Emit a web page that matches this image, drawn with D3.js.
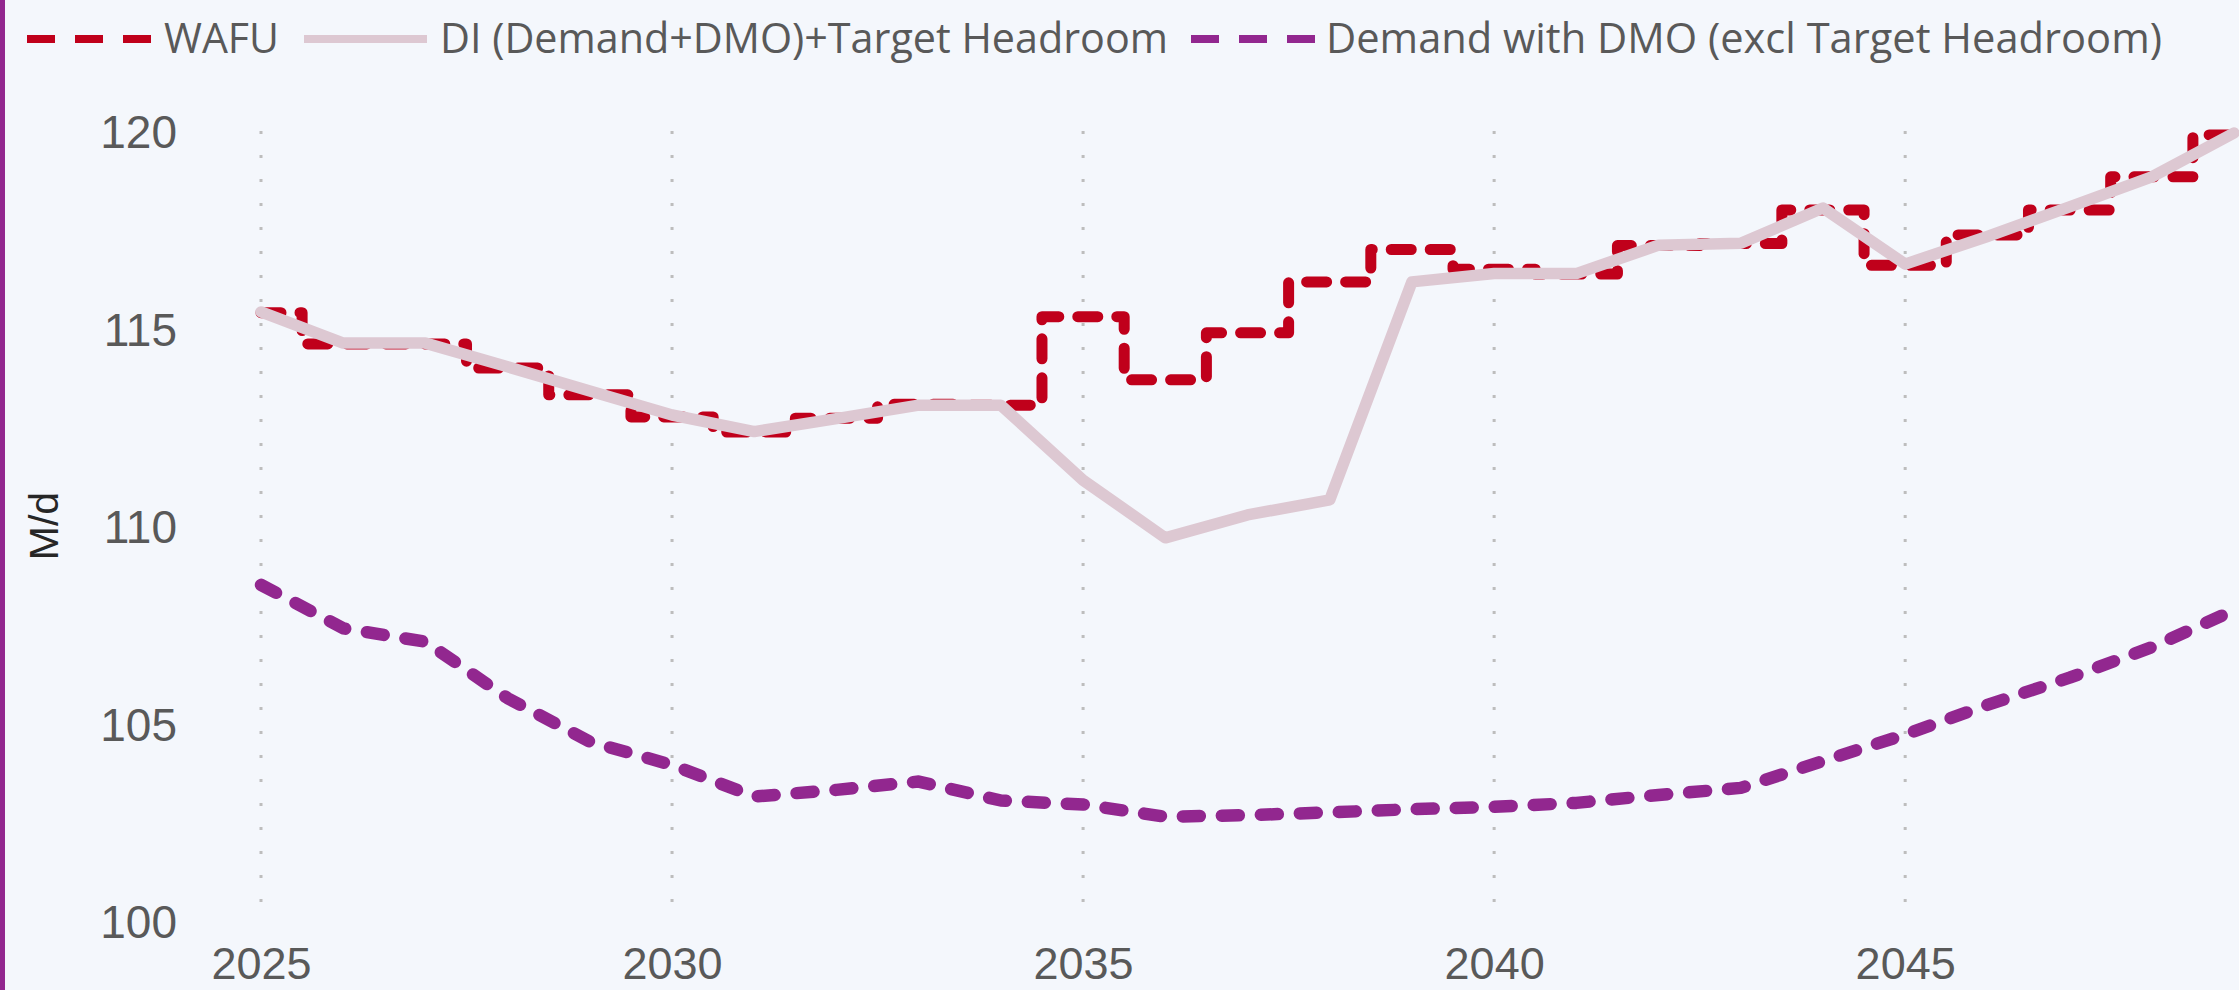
<!DOCTYPE html>
<html>
<head>
<meta charset="utf-8">
<script src="https://cdn.jsdelivr.net/npm/d3@7"></script>
<style>
  html, body { margin: 0; padding: 0; background: #f4f7fc; }
  svg { display: block; }
</style>
</head>
<body>
<div class="wrapper"></div>
<script>
const WIDTH = 2239
const HEIGHT = 990

// data
var years = [2025, 2026, 2027, 2028, 2029, 2030, 2031, 2032, 2033, 2034, 2035, 2036,
             2037, 2038, 2039, 2040, 2041, 2042, 2043, 2044, 2045, 2046, 2047, 2048, 2049]
var wafu = [115.40, 114.61, 114.61, 114.00, 113.32, 112.76, 112.38, 112.73, 113.08, 113.06,
            115.30, 113.70, 114.89, 116.18, 117.00, 116.50, 116.38, 117.10, 117.15, 118.00,
            116.60, 117.37, 118.00, 118.84, 119.90]
var di = [115.42, 114.63, 114.63, 114.03, 113.42, 112.81, 112.39, 112.72, 113.06, 113.06,
          111.16, 109.70, 110.28, 110.66, 116.18, 116.39, 116.39, 117.11, 117.16, 118.05,
          116.63, 117.33, 118.08, 118.84, 119.95]
var demand = [108.51, 107.41, 107.07, 105.64, 104.54, 103.95, 103.15, 103.32, 103.53, 103.05,
              102.95, 102.64, 102.68, 102.75, 102.83, 102.89, 102.99, 103.19, 103.37, 104.05,
              104.72, 105.47, 106.16, 106.93, 107.87]

var seriesNames = ['WAFU', 'DI (Demand+DMO)+Target Headroom', 'Demand with DMO (excl Target Headroom)']
var yTicks = [100, 105, 110, 115, 120]
var xTicks = [2025, 2030, 2035, 2040, 2045]
var yLabel = 'M/d'

var colors = ['#c0001b', '#ddc8d2', '#92278f']

var series = [
  {name: seriesNames[0], values: wafu, color: colors[0], width: 11, dash: '20,19', curve: d3.curveStep},
  {name: seriesNames[1], values: di, color: colors[1], width: 11.5, dash: null, curve: d3.curveLinear},
  {name: seriesNames[2], values: demand, color: colors[2], width: 12.5, dash: '17,22', curve: d3.curveLinear}
]

var svg = d3.select(".wrapper")
  .append("svg")
  .attr("width", WIDTH)
  .attr("height", HEIGHT)

svg.append("rect")
  .attr("width", WIDTH).attr("height", HEIGHT)
  .attr("fill", "#f4f7fc")

// purple strip on the left edge
svg.append("rect")
  .attr("x", 0).attr("y", 0)
  .attr("width", 5).attr("height", HEIGHT)
  .attr("fill", "#92278f")

var x = d3.scaleLinear().domain([2025, 2049]).range([261, 2234])
var y = d3.scaleLinear().domain([100, 120]).range([921, 131])

// dotted vertical grid
svg.append("g")
  .selectAll("line")
  .data(xTicks)
  .join("line")
  .attr("x1", d => x(d)).attr("x2", d => x(d))
  .attr("y1", y(120)).attr("y2", y(100) + 2)
  .attr("stroke", "#bdbdbd")
  .attr("stroke-width", 3)
  .attr("stroke-dasharray", "3,21")

// axes
var yAxis = svg.append("g")
  .attr("transform", "translate(177,0)")
  .call(d3.axisLeft(y).tickValues(yTicks).tickSize(0).tickPadding(0))
yAxis.select(".domain").remove()
yAxis.selectAll("text")
  .attr("x", 0)
  .attr("dy", "0.36em")
  .style("font-family", "'Liberation Sans', Arial, sans-serif")
  .style("font-size", "46px")
  .attr("fill", "#595959")

var xAxis = svg.append("g")
  .attr("transform", "translate(0,979)")
  .call(d3.axisBottom(x).tickValues(xTicks).tickFormat(d3.format("d")).tickSize(0))
xAxis.select(".domain").remove()
xAxis.selectAll("text")
  .attr("y", 0)
  .attr("dy", 0)
  .style("font-family", "'Liberation Sans', Arial, sans-serif")
  .style("font-size", "45px")
  .attr("fill", "#595959")

svg.append("text")
  .attr("transform", "translate(58,526) rotate(-90)")
  .attr("text-anchor", "middle")
  .style("font-family", "'Liberation Sans', Arial, sans-serif")
  .style("font-size", "41px")
  .attr("fill", "#262626")
  .text(yLabel)

// lines
svg.append("g")
  .selectAll("path")
  .data(series)
  .join("path")
  .attr("fill", "none")
  .attr("stroke", d => d.color)
  .attr("stroke-width", d => d.width)
  .attr("stroke-dasharray", d => d.dash)
  .attr("stroke-linecap", "round")
  .attr("stroke-linejoin", "round")
  .attr("d", d => d3.line()
      .x((v, i) => x(years[i]))
      .y(v => y(v))
      .curve(d.curve)(d.values))

// legend
var legendItems = [
  {x1: 27, x2: 151, tx: 164, tw: 115},
  {x1: 304, x2: 427, tx: 440, tw: 728},
  {x1: 1191, x2: 1315, tx: 1326, tw: 836}
]
var legend = svg.append("g")
legend.selectAll("line")
  .data(series)
  .join("line")
  .attr("x1", (d, i) => legendItems[i].x1)
  .attr("x2", (d, i) => legendItems[i].x2)
  .attr("y1", 39).attr("y2", 39)
  .attr("stroke", d => d.color)
  .attr("stroke-width", 8)
  .attr("stroke-dasharray", d => d.dash ? "28,20" : null)

legend.selectAll("text")
  .data(series)
  .join("text")
  .attr("x", (d, i) => legendItems[i].tx)
  .attr("y", 53)
  .attr("textLength", (d, i) => legendItems[i].tw)
  .attr("lengthAdjust", "spacingAndGlyphs")
  .style("font-family", "'Open Sans', sans-serif")
  .style("font-size", "42px")
  .attr("fill", "#595959")
  .text(d => d.name)
</script>
</body>
</html>
